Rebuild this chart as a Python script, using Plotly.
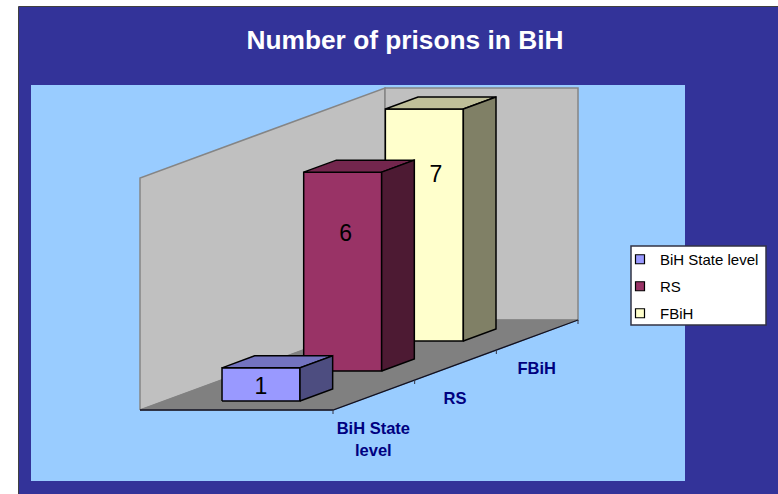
import plotly.graph_objects as go

categories = ["BiH State level", "RS", "FBiH"]
values = [1, 6, 7]
category_labels = ["BiH State<br>level", "RS", "FBiH"]
axis_max = 7
title = "Number of prisons in BiH"

front_colors = ["#9999FF", "#993366", "#FFFFCC"]
top_colors = ["#7373BF", "#73264D", "#BFBF99"]
side_colors = ["#4D4D80", "#4D1A33", "#808066"]

# Oblique projection of the 3-D chart space into the page's axes
ORIGIN = (140.0, 410.0)
X_SPAN = 193.0
DEPTH_STEP = (81.67, -30.0)
UNIT = 33.14
BAR_X = (0.298, 0.702)
BAR_D = (0.3, 0.7)
LABEL_OFFSET = [(0, 20.5), (3, 63.5), (11.5, 67)]


def project(x, d, v):
    return (ORIGIN[0] + x * X_SPAN + d * DEPTH_STEP[0],
            ORIGIN[1] + d * DEPTH_STEP[1] - v * UNIT)


def poly(fig, pts, fill, line, width=1.5):
    pp = [project(*p) for p in pts]
    pp.append(pp[0])
    fig.add_trace(go.Scatter(
        x=[p[0] for p in pp], y=[p[1] for p in pp], mode="lines", fill="toself",
        fillcolor=fill, line=dict(color=line, width=width), showlegend=False,
        hoverinfo="skip"))


fig = go.Figure()
n = len(categories)

# walls and floor
poly(fig, [(0, 0, 0), (0, n, 0), (0, n, axis_max), (0, 0, axis_max)], "#C0C0C0", "#858585")
poly(fig, [(0, n, 0), (1, n, 0), (1, n, axis_max), (0, n, axis_max)], "#C0C0C0", "#858585")
poly(fig, [(0, 0, 0), (1, 0, 0), (1, n, 0), (0, n, 0)], "#808080", "#808080", 1)

# floor edge and ticks
edge = [project(0, 0, 0), project(1, 0, 0), project(1, n, 0)]
fig.add_trace(go.Scatter(x=[p[0] for p in edge], y=[p[1] for p in edge], mode="lines",
                         line=dict(color="#111122", width=1.3), showlegend=False, hoverinfo="skip"))
tx, ty = [], []
for i in range(n + 1):
    p = project(1, i, 0)
    tx += [p[0], p[0], None]
    ty += [p[1], p[1] + 4, None]
fig.add_trace(go.Scatter(x=tx, y=ty, mode="lines", line=dict(color="#333344", width=1),
                         showlegend=False, hoverinfo="skip"))

# bars, back to front
x0, x1 = BAR_X
for i in reversed(range(n)):
    d0, d1 = i + BAR_D[0], i + BAR_D[1]
    v = values[i]
    poly(fig, [(x0, d0, 0), (x1, d0, 0), (x1, d0, v), (x0, d0, v)], front_colors[i], "#000000")
    poly(fig, [(x0, d0, v), (x1, d0, v), (x1, d1, v), (x0, d1, v)], top_colors[i], "#000000")
    poly(fig, [(x1, d0, 0), (x1, d1, 0), (x1, d1, v), (x1, d0, v)], side_colors[i], "#000000")

# value labels
lx, ly = [], []
for i in range(n):
    p = project((x0 + x1) / 2, i + BAR_D[0], values[i])
    lx.append(p[0] + LABEL_OFFSET[i][0])
    ly.append(p[1] + LABEL_OFFSET[i][1])
fig.add_trace(go.Scatter(x=lx, y=ly, mode="text", text=[str(v) for v in values],
                         textposition="middle center",
                         textfont=dict(family="Liberation Sans", size=23, color="#000000"),
                         showlegend=False, hoverinfo="skip"))

# category labels
cx, cy = [], []
for i in range(n):
    p = project(1, i + 0.5, 0)
    cx.append(p[0] - 0.5)
    cy.append(p[1] + 27)
fig.add_trace(go.Scatter(x=cx, y=cy, mode="text", text=category_labels,
                         textposition="bottom center",
                         textfont=dict(family="Liberation Sans", size=16.5, color="#000080", weight="bold"),
                         showlegend=False, hoverinfo="skip"))

# legend entries
for i in range(n):
    fig.add_trace(go.Scatter(x=[None], y=[None], mode="markers", name=categories[i],
                             legendgroup=categories[i],
                             marker=dict(symbol="square", size=9, color=front_colors[i],
                                         line=dict(color="#000000", width=1.2))))

fig.update_layout(
    width=778, height=494,
    margin=dict(l=0, r=0, t=0, b=0),
    autosize=False,
    paper_bgcolor="#FFFFFF", plot_bgcolor="#FFFFFF",
    xaxis=dict(visible=False, range=[0, 778], fixedrange=True),
    yaxis=dict(visible=False, range=[494, 0], fixedrange=True),
    title=dict(text=title, x=405 / 778, y=1 - 39.5 / 494, xanchor="center", yanchor="middle",
               font=dict(family="Liberation Sans", size=26.3, color="#FFFFFF", weight="bold")),
    legend=dict(x=620 / 778, y=1 - 243 / 494, xanchor="left", yanchor="top",
                bgcolor="rgba(0,0,0,0)", borderwidth=0, tracegroupgap=4.5, itemclick=False,
                font=dict(family="Liberation Sans", size=15, color="#000000")),
    shapes=[
        dict(type="rect", layer="below", xref="x", yref="y", x0=18.5, y0=6.5, x1=790, y1=510,
             fillcolor="#333399", line=dict(color="#404040", width=1)),
        dict(type="rect", layer="below", xref="x", yref="y", x0=31, y0=85, x1=685, y1=481,
             fillcolor="#99CCFF", line=dict(width=0)),
        dict(type="rect", layer="above", xref="x", yref="y", x0=631, y0=246, x1=766, y1=325,
             fillcolor="#FFFFFF", line=dict(color="#333344", width=1.5)),
    ],
)

fig.write_html("out.html", config={"displayModeBar": False},
               post_script="document.body.style.margin='0';document.documentElement.style.overflow='hidden';")
